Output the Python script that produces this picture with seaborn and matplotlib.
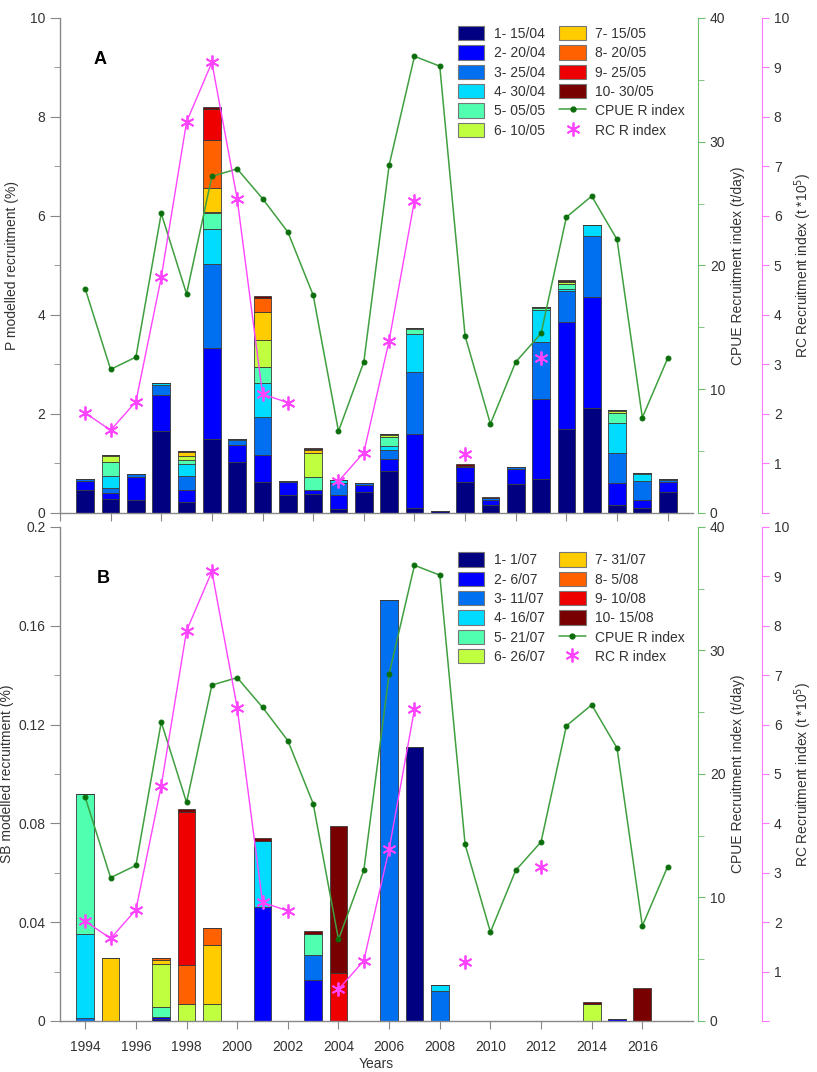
import numpy as np
import pandas as pd
import matplotlib
matplotlib.use('Agg')
import matplotlib.pyplot as plt
from matplotlib.patches import Patch
from matplotlib.lines import Line2D
from matplotlib.ticker import MultipleLocator, FuncFormatter
import seaborn as sns

sns.set_style("ticks")
plt.rcParams['font.family'] = ['Liberation Sans', 'DejaVu Sans']
plt.rcParams['text.color'] = '#333333'
plt.rcParams['axes.labelcolor'] = '#333333'
plt.rcParams['xtick.color'] = '#888888'
plt.rcParams['ytick.color'] = '#888888'
plt.rcParams['xtick.labelcolor'] = '#333333'
plt.rcParams['ytick.labelcolor'] = '#333333'

years = list(range(1994, 2018))

# class colours (jet-like)
class_colors = ['#000080', '#0000ff', '#0070f0', '#00dcff', '#50ffb0',
                '#c0ff40', '#ffcc00', '#ff6000', '#ee0000', '#780000']
labels_p = ['1- 15/04', '2- 20/04', '3- 25/04', '4- 30/04', '5- 05/05',
            '6- 10/05', '7- 15/05', '8- 20/05', '9- 25/05', '10- 30/05']
labels_sb = ['1- 1/07', '2- 6/07', '3- 11/07', '4- 16/07', '5- 21/07',
             '6- 26/07', '7- 31/07', '8- 5/08', '9- 10/08', '10- 15/08']

# Panel A - P modelled recruitment (%) per hatching class
p1 = [.47, .28, .27, 1.65, .22, 1.50, 1.02, .63, .36, .39, .07, .42, .84, .09, .03, .63, .17, .59, .69, 1.70, 2.11, .155, .11, .42]
p2 = [.18, .13, .46, .73, .25, 1.83, .36, .54, .27, .08, .29, .14, .245, 1.51, 0, .29, .10, .29, 1.62, 2.16, 2.25, .455, .16, .21]
p3 = [.04, .095, .05, .20, .27, 1.69, .09, .76, .01, 0, .25, .05, .185, 1.24, 0, 0, .04, .04, 1.14, .62, 1.24, .61, .38, .04]
p4 = [0, .245, 0, .05, .24, .71, .02, .70, 0, 0, .05, 0, .08, .77, 0, 0, 0, 0, .65, .05, .21, .60, .13, .02]
p5 = [0, .28, 0, 0, .085, .32, 0, .32, 0, .25, 0, 0, .18, .10, 0, 0, 0, 0, .04, .10, 0, .20, .02, 0]
p6 = [0, .115, 0, 0, .08, .03, 0, .55, 0, .49, 0, 0, .05, .03, 0, 0, 0, 0, .02, .03, 0, .03, 0, 0]
p7 = [0, .035, 0, 0, .085, .49, 0, .56, 0, .06, 0, 0, .02, 0, 0, 0, 0, 0, 0, 0, 0, .02, 0, 0]
p8 = [0, 0, 0, 0, .02, .96, 0, .29, 0, .03, 0, 0, 0, 0, 0, 0, 0, 0, 0, .02, 0, 0, 0, 0]
p9 = [0, 0, 0, 0, 0, .62, 0, 0, 0, 0, 0, 0, 0, 0, 0, .03, 0, 0, 0, 0, 0, 0, 0, 0]
p10 = [0, 0, 0, 0, 0, .05, 0, .03, 0, .02, 0, 0, 0, 0, 0, .04, .02, 0, 0, .02, 0, 0, 0, 0]

# Panel B - SB modelled recruitment (%) per hatching class
s1 = [0, 0, 0, .0006, 0, 0, 0, 0, 0, 0, 0, 0, 0, .111, 0, 0, 0, 0, 0, 0, 0, 0, 0, 0]
s2 = [0, 0, 0, .0012, 0, 0, 0, .0462, 0, .0166, 0, 0, 0, 0, 0, 0, 0, 0, 0, 0, 0, .001, 0, 0]
s3 = [.0014, 0, 0, 0, 0, 0, 0, 0, 0, .010, 0, 0, .1705, 0, .0121, 0, 0, 0, 0, 0, 0, 0, 0, 0]
s4 = [.034, 0, 0, 0, 0, 0, 0, .0267, 0, 0, 0, 0, 0, 0, .0025, 0, 0, 0, 0, 0, 0, 0, 0, 0]
s5 = [.0565, 0, 0, .0039, 0, 0, 0, 0, 0, .0088, 0, 0, 0, 0, 0, 0, 0, 0, 0, 0, 0, 0, 0, 0]
s6 = [0, 0, 0, .0173, .007, .007, 0, 0, 0, 0, 0, 0, 0, 0, 0, 0, 0, 0, 0, 0, .007, 0, 0, 0]
s7 = [0, .0254, 0, .0017, 0, .0237, 0, 0, 0, 0, 0, 0, 0, 0, 0, 0, 0, 0, 0, 0, 0, 0, 0, 0]
s8 = [0, 0, 0, .0007, .0157, .0071, 0, 0, 0, 0, 0, 0, 0, 0, 0, 0, 0, 0, 0, 0, 0, 0, 0, 0]
s9 = [0, 0, 0, 0, .062, 0, 0, 0, 0, 0, .0193, 0, 0, 0, 0, 0, 0, 0, 0, 0, 0, 0, 0, 0]
s10 = [0, 0, 0, 0, .0012, 0, 0, .0012, 0, .0012, .0598, 0, 0, 0, 0, 0, 0, 0, 0, 0, .0008, 0, .0132, 0]

# recruitment indices (same in both panels)
cpue = [18.1, 11.6, 12.6, 24.2, 17.7, 27.2, 27.8, 25.4, 22.7, 17.6, 6.6, 12.2,
        28.1, 36.9, 36.1, 14.3, 7.2, 12.2, 14.5, 23.9, 25.6, 22.1, 7.7, 12.5]
rc = [2.02, 1.67, 2.25, 4.76, 7.9, 9.1, 6.34, 2.4, 2.23, np.nan, 0.64, 1.22,
      3.48, 6.31, np.nan, 1.2, np.nan, np.nan, 3.12, np.nan, np.nan, np.nan, np.nan, np.nan]

p_classes = [p1, p2, p3, p4, p5, p6, p7, p8, p9, p10]
sb_classes = [s1, s2, s3, s4, s5, s6, s7, s8, s9, s10]

idx = pd.DataFrame({'year': years, 'cpue': cpue, 'rc': rc})
idx['seg'] = idx['rc'].isna().cumsum()
rc_df = idx.dropna(subset=['rc'])

CPUE_LINE = '#3f9f3f'
CPUE_MARK = '#0b6e0b'
CPUE_SPINE = '#6cbf6c'
RC_COL = '#ff44ff'
RC_SPINE = '#ff77ff'

fig = plt.figure(figsize=(8.17, 10.72), dpi=100)


def draw_panel(rect, classes, labels, ylim, ymaj, ymin_, ylabel, letter, letter_pos,
               leg_y, bottom_labels, ylabelpad):
    ax = fig.add_axes(rect)
    x = np.array(years)
    bottom = np.zeros(len(years))
    for vals, col in zip(classes, class_colors):
        v = np.array(vals)
        ax.bar(x, v, bottom=bottom, width=0.7, color=col,
               edgecolor='#3a3a3a', linewidth=0.6, zorder=2)
        bottom += v

    ax.set_xlim(1993, 2018)
    ax.set_ylim(*ylim)
    ax.yaxis.set_major_locator(MultipleLocator(ymaj))
    ax.yaxis.set_minor_locator(MultipleLocator(ymin_))
    ax.yaxis.set_major_formatter(FuncFormatter(lambda v, p: f'{round(v, 4):g}'))
    for s in ['top', 'right']:
        ax.spines[s].set_visible(False)
    for s in ['left', 'bottom']:
        ax.spines[s].set_color('#888888')
        ax.spines[s].set_linewidth(1.0)
    ax.tick_params(axis='y', which='major', length=7, direction='out', labelsize=10)
    ax.tick_params(axis='y', which='minor', length=4, direction='out', color='#888888')
    ax.set_ylabel(ylabel, fontsize=10, labelpad=ylabelpad)
    if bottom_labels:
        ax.set_xticks(range(1994, 2017, 2))
        ax.tick_params(axis='x', length=6, labelsize=10, pad=8)
        ax.set_xlabel('Years', fontsize=10, labelpad=2)
    else:
        ax.set_xticks(range(1993, 2018, 2))
        ax.tick_params(axis='x', length=6, labelbottom=False)
    ax.text(letter_pos[0], letter_pos[1], letter, transform=ax.transAxes,
            fontsize=13, fontweight='bold', color='black', ha='center', va='center')

    # CPUE axis
    ax_c = ax.twinx()
    sns.lineplot(data=idx, x='year', y='cpue', ax=ax_c, color=CPUE_LINE, linewidth=1.1,
                 marker='o', markersize=3.5, markerfacecolor=CPUE_MARK,
                 markeredgecolor=CPUE_MARK, legend=False, zorder=3)
    ax_c.set_ylim(0, 40)
    ax_c.yaxis.set_major_locator(MultipleLocator(10))
    ax_c.yaxis.set_minor_locator(MultipleLocator(5))
    ax_c.spines['right'].set_position(('axes', 1.008))
    ax_c.spines['right'].set_color(CPUE_SPINE)
    for s in ['top', 'left', 'bottom']:
        ax_c.spines[s].set_visible(False)
    ax_c.tick_params(axis='y', which='both', colors=CPUE_SPINE, labelcolor='#333333', labelsize=10)
    ax_c.tick_params(axis='y', which='major', length=5)
    ax_c.tick_params(axis='y', which='minor', length=4)
    ax_c.set_ylabel('CPUE Recruitment index (t/day)', fontsize=10, labelpad=4)
    ax_c.set_xlabel('')

    # RC axis
    ax_r = ax.twinx()
    sns.lineplot(data=rc_df, x='year', y='rc', units='seg', estimator=None, ax=ax_r,
                 color=RC_COL, linewidth=1.0, marker=(6, 2, 0), markersize=10,
                 markeredgecolor=RC_COL, markeredgewidth=1.3, legend=False, zorder=3)
    ax_r.set_ylim(0, 10)
    ax_r.set_yticks(range(0, 11))
    ax_r.set_yticklabels([''] + [str(i) for i in range(1, 11)])
    ax_r.spines['right'].set_position(('axes', 1.109))
    ax_r.spines['right'].set_color(RC_SPINE)
    for s in ['top', 'left', 'bottom']:
        ax_r.spines[s].set_visible(False)
    ax_r.tick_params(axis='y', colors=RC_SPINE, labelcolor='#333333', length=5, labelsize=10)
    ax_r.set_ylabel('RC Recruitment index (t *10$^5$)', fontsize=10, labelpad=2)
    ax_r.set_xlabel('')
    ax_r.set_xlim(1993, 2018)
    ax_c.set_xlim(1993, 2018)

    handles = [Patch(facecolor=c, edgecolor='#777777', linewidth=0.8) for c in class_colors]
    handles += [Line2D([], [], color=CPUE_LINE, marker='o', markersize=3.5,
                       markerfacecolor=CPUE_MARK, markeredgecolor=CPUE_MARK, linewidth=1.1),
                Line2D([], [], color=RC_COL, marker=(6, 2, 0), markersize=10, linestyle='none',
                       markeredgecolor=RC_COL, markeredgewidth=1.3)]
    ax_r.legend(handles, labels + ['CPUE R index', 'RC R index'], ncol=2, frameon=False,
                loc='upper left', bbox_to_anchor=(0.62, leg_y), borderaxespad=0,
                fontsize=10, handlelength=1.9, handleheight=1.2, labelspacing=0.33,
                handletextpad=0.7, columnspacing=1.0)
    return ax


# panel A (top) and panel B (bottom)
draw_panel([0.0734, 0.5215, 0.7748, 0.4618], p_classes, labels_p, (0, 10), 2, 1,
           'P modelled recruitment (%)', 'A', (0.063, 0.915), 0.995, False, 8)
draw_panel([0.0734, 0.0476, 0.7748, 0.4608], sb_classes, labels_sb, (0, 0.2), 0.04, 0.02,
           'SB modelled recruitment (%)', 'B', (0.068, 0.895), 0.96, True, 3)

fig.savefig('out.png', dpi=100)
